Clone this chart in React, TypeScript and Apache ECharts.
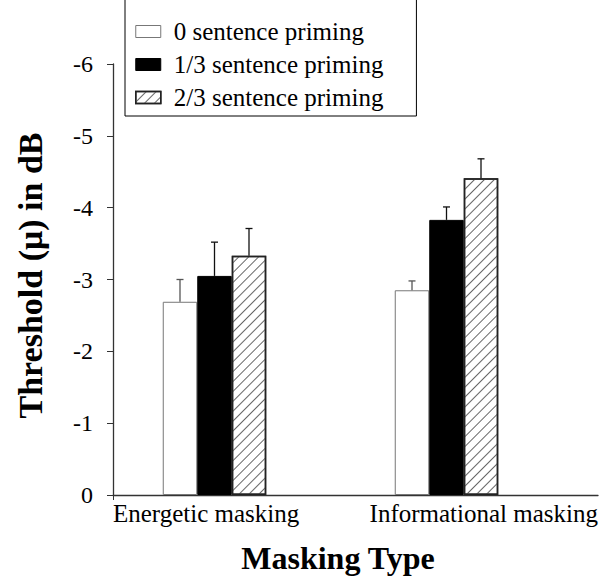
import React, { useEffect, useRef } from "react";
import * as echarts from "echarts";

const categories = ["Energetic masking", "Informational masking"];
const groupPositions = [1, 2];
const seriesNames = ["0 sentence priming", "1/3 sentence priming", "2/3 sentence priming"];
const zeroPriming = [-2.69, -2.85];
const oneThirdPriming = [-3.05, -3.83];
const twoThirdPriming = [-3.33, -4.41];
const zeroPrimingErr = [0.31, 0.13];
const oneThirdPrimingErr = [0.47, 0.18];
const twoThirdPrimingErr = [0.38, 0.27];
const yTicks = [-6, -5, -4, -3, -2, -1, 0];

const FONT = "'Liberation Serif', 'Times New Roman', serif";
const BAR_W = 34.5;
const X_MIN = 0.5625;
const X_MAX = 2.653;

export default function App() {
  const ref = useRef<HTMLDivElement>(null);
  useEffect(() => {
    if (!ref.current) return;
    const chart = echarts.init(ref.current, undefined, { renderer: "svg" });
    const values = [zeroPriming, oneThirdPriming, twoThirdPriming];
    const errs = [zeroPrimingErr, oneThirdPrimingErr, twoThirdPrimingErr];
    const hatch = {
      symbol: "rect",
      symbolSize: 1,
      dashArrayX: [1, 0],
      dashArrayY: [1, 5.5],
      rotation: -Math.PI / 4,
      color: "#666",
      backgroundColor: "#fff",
    };
    const styles: any[] = [
      { color: "#fff", borderColor: "#777", borderWidth: 1 },
      { color: "#000", borderColor: "#000", borderWidth: 1 },
      { color: "#fff", borderColor: "#222", borderWidth: 1.5, decal: hatch },
    ];
    const errColors = ["#555", "#111", "#111"];
    const barSeries = values.map((vals, i) => ({
      name: seriesNames[i],
      type: "bar",
      barWidth: BAR_W,
      barGap: "0%",
      data: vals.map((v, j) => [groupPositions[j], v]),
      itemStyle: styles[i],
      emphasis: { disabled: true },
    }));
    const errSeries = errs.map((es, i) => ({
      name: "err" + i,
      type: "custom",
      z: 5,
      data: es.map((e, j) => [groupPositions[j], values[i][j], e]),
      renderItem: (params: any, api: any) => {
        const x = api.value(0);
        const v = api.value(1);
        const e = api.value(2);
        const base = api.coord([x, v]);
        const top = api.coord([x, v - e]);
        const cx = base[0] + (i - 1) * BAR_W;
        const st = { stroke: errColors[i], lineWidth: 1.3 };
        return {
          type: "group",
          children: [
            { type: "line", shape: { x1: cx, y1: base[1], x2: cx, y2: top[1] }, style: st },
            { type: "line", shape: { x1: cx - 3.5, y1: top[1], x2: cx + 3.5, y2: top[1] }, style: st },
          ],
        };
      },
    }));
    chart.setOption({
      animation: false,
      grid: { left: 113, right: 2, top: 64, bottom: 82, containLabel: false, outerBoundsMode: "none" },
      legend: {
        orient: "vertical",
        left: 125,
        top: -3,
        padding: [22, 33, 6, 10],
        borderColor: "#000",
        borderWidth: 1,
        itemWidth: 25,
        itemHeight: 12,
        itemGap: 8,
        icon: "rect",
        selectedMode: false,
        data: seriesNames.map((n, i) => ({ name: n, itemStyle: styles[i] })),
        textStyle: { fontFamily: FONT, fontSize: 25, color: "#000", lineHeight: 24, padding: [0, 0, 0, 8] },
      },
      xAxis: {
        type: "value",
        min: X_MIN,
        max: X_MAX,
        splitLine: { show: false },
        axisLine: { show: true, lineStyle: { color: "#333", width: 1.3 } },
        axisTick: { show: true, length: 5, customValues: [X_MIN], lineStyle: { color: "#333" } },
        axisLabel: {
          customValues: [X_MIN, X_MAX],
          formatter: (v: number) => (v < 1.5 ? categories[0] : categories[1]),
          alignMinLabel: "left",
          alignMaxLabel: "right",
          fontFamily: FONT,
          fontSize: 25,
          color: "#000",
          margin: 6,
        },
        name: "Masking Type",
        nameLocation: "middle",
        nameGap: 47,
        nameTextStyle: { fontFamily: FONT, fontSize: 32, fontWeight: "bold", color: "#000", padding: [0, 35, 0, 0] },
      },
      yAxis: {
        type: "value",
        inverse: true,
        min: yTicks[0],
        max: yTicks[yTicks.length - 1],
        interval: 1,
        splitLine: { show: false },
        axisLine: { show: true, lineStyle: { color: "#333", width: 1.3 } },
        axisTick: { show: true, inside: false, length: 6, lineStyle: { color: "#333" } },
        axisLabel: { fontFamily: FONT, fontSize: 24, color: "#000", margin: 20 },
        name: "Threshold (\u03bc) in dB",
        nameLocation: "middle",
        nameGap: 66,
        nameTextStyle: { fontFamily: FONT, fontSize: 34, fontWeight: "bold", color: "#000", padding: [0, 0, 0, 8] },
      },
      series: [...barSeries, ...errSeries],
    });
    return () => chart.dispose();
  }, []);
  return <div ref={ref} style={{ position: "absolute", left: 0, top: 0, width: 600, height: 577 }} />;
}
